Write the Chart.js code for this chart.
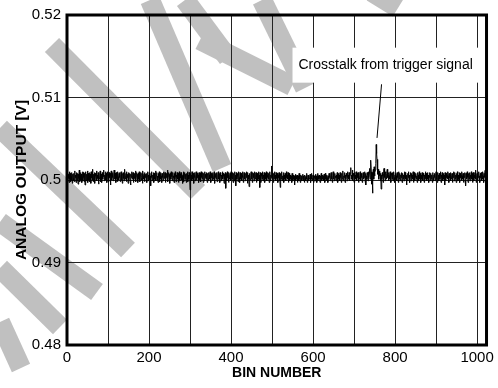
<!DOCTYPE html>
<html>
<head>
<meta charset="utf-8">
<script src="https://cdn.jsdelivr.net/npm/chart.js@4.4.0/dist/chart.umd.min.js"></script>
<style>
html, body { margin: 0; padding: 0; background: #fff; }
</style>
</head>
<body>
<canvas id="chart" width="498" height="388"></canvas>
<script>
// analog output around 0.5 V, offsets in units of 0.1 mV, 128 bins per array
var baseline = 0.5;
var bins0 = [
  6,-1,9,2,7,-3,10,1,8,-2,5,0,9,-4,7,3,
  -1,8,-2,11,3,6,-3,9,4,-1,8,-5,7,2,12,-2,
  5,9,0,7,-3,4,10,-1,9,3,-2,8,-6,5,10,-1,
  7,2,11,-3,8,0,5,9,-2,7,-4,10,3,8,0,13,
  -2,7,3,9,-4,8,5,0,11,-1,6,2,9,-5,8,1,
  5,11,-2,7,3,-3,9,1,8,4,12,-1,6,2,10,0,
  8,-3,5,10,1,7,-2,9,3,8,-6,5,11,0,7,3,
  9,-1,6,12,1,5,8,-3,9,2,7,-2,10,4,0,8
];
var bins128 = [
  3,9,-2,7,10,0,5,-4,8,2,9,-1,6,13,1,5,
  8,-2,10,3,7,-4,9,0,5,8,-1,-6,7,3,10,1,
  5,9,-3,7,2,8,0,11,-2,5,9,3,7,-3,8,1,
  10,4,-2,6,9,0,3,8,-4,11,5,1,7,-2,9,3,
  7,0,8,-3,5,10,-1,6,2,9,0,5,-7,8,3,10,
  -1,6,4,9,-3,8,1,3,11,-1,6,9,0,5,-3,8,
  3,10,-2,7,1,9,5,-3,8,3,6,-1,10,2,5,9,
  -3,6,3,8,1,12,-2,5,9,3,7,-4,8,1,10,4
];
var bins256 = [
  7,-1,9,3,5,-3,8,1,10,4,-2,6,3,9,1,8,
  -3,5,10,-1,7,3,9,0,8,5,-4,6,10,-2,4,9,
  1,7,5,-3,8,3,10,-2,6,1,9,5,-12,8,3,6,
  -1,10,5,1,8,-4,6,3,9,-1,5,10,0,2,8,3,
  6,-3,9,5,0,8,-2,10,3,7,1,9,-3,5,8,-1,
  10,3,7,1,9,5,-3,8,3,-1,9,6,1,10,5,-3,
  8,3,7,-1,9,1,5,10,-4,6,3,8,1,9,-2,5,
  7,10,1,3,8,-3,9,5,-1,6,3,10,1,8,5,-4
];
var bins384 = [
  7,1,9,-10,5,8,-1,10,3,6,-3,9,1,5,8,-1,
  10,3,7,1,9,-3,5,8,-1,10,3,6,-7,9,1,5,
  8,-2,6,10,3,-3,9,5,1,8,-1,6,3,10,-3,5,
  9,1,6,-1,8,3,10,5,-4,9,1,6,-8,8,3,0,
  5,10,1,7,-3,9,3,8,-1,5,10,1,7,9,-3,4,
  8,-1,5,10,1,6,-9,9,3,-3,8,5,1,10,-1,6,
  3,9,-3,8,5,1,10,-1,6,3,9,1,8,-3,5,10,
  -1,6,3,17,1,9,5,-3,8,1,10,3,6,-1,9,5
];
var bins512 = [
  2,8,-3,6,3,9,-1,5,-9,8,1,6,10,-1,5,3,
  9,-3,6,1,8,5,-1,10,3,6,1,9,-3,5,8,-1,
  6,3,1,5,-3,8,3,-1,6,1,5,-6,3,7,-1,5,
  1,6,-3,3,5,-1,8,1,3,-3,6,1,5,-1,3,7,
  -1,5,1,-3,6,3,-1,5,1,8,-3,3,6,-1,5,1,
  3,7,-3,5,1,8,-1,3,6,1,-3,5,3,-1,7,1,
  5,-3,3,8,-1,5,1,6,3,-3,5,1,8,-1,3,6,
  1,5,-1,7,3,-3,8,1,5,-1,6,3,-3,5,1,8
];
var bins640 = [
  3,8,-1,5,9,1,6,-3,5,10,1,6,-1,8,3,5,
  -1,6,3,9,-3,5,8,1,6,-1,9,3,5,-3,8,1,
  6,11,-1,5,3,9,-3,6,1,8,5,-1,10,3,6,1,
  9,-1,5,8,15,1,6,3,12,-1,8,5,-3,9,3,6,
  1,10,5,-1,8,3,9,-3,6,1,5,10,-1,8,3,6,
  -3,5,9,1,6,3,10,-1,8,-6,5,1,9,6,-1,10,
  3,8,14,1,17,24,10,-5,9,-16,6,13,1,16,5,10,
  12,20,43,32,25,14,7,13,1,10,5,11,-1,8,-11,6
];
var bins768 = [
  1,9,5,-3,8,14,3,6,-1,10,5,1,8,13,3,6,
  -1,9,5,1,10,3,-3,8,6,1,9,-1,5,10,3,-3,
  6,1,8,5,-1,9,3,6,-3,10,1,5,8,-1,6,3,
  9,-3,5,8,1,6,-1,10,3,9,1,5,-6,6,-1,8,
  3,10,1,6,-3,5,9,-1,8,3,6,1,10,-3,5,9,
  -1,6,3,8,1,5,-3,9,6,-1,3,10,1,8,5,-3,
  6,1,9,3,-1,8,5,-3,6,1,10,3,8,-1,5,9,
  1,6,-3,5,3,9,-1,8,1,6,5,-3,9,3,-1,6
];
var bins896 = [
  3,8,-1,6,10,1,5,-3,9,3,6,-1,8,1,5,10,
  -3,6,3,9,-1,5,8,1,6,-6,9,5,-1,8,3,6,
  1,10,5,-3,8,3,6,-1,9,1,5,8,-3,6,3,10,
  -1,5,9,1,6,-3,8,3,10,-1,6,1,5,9,-3,8,
  3,6,-1,10,5,1,8,-3,6,3,9,-1,-7,8,1,6,
  10,3,-3,8,5,1,9,-1,6,3,10,1,8,-3,5,9,
  -1,6,3,9,1,12,-3,5,8,-1,6,3,10,1,5,-3,
  8,3,9,-1,6,1,10,5,-3,8,3,9,12,-1,6,-6
];

var yTicks = [0.48, 0.49, 0.5, 0.51, 0.52];
var xGrid = [0, 100, 200, 300, 400, 500, 600, 700, 800, 900, 1000];
var xTickLabels = ['0', '200', '400', '600', '800', '1000'];

var noteText = 'Crosstalk from trigger signal';
var noteAt = [777, 0.51398];
var leaderFrom = [767, 0.5116];
var leaderTo = [756, 0.5051];

// grey watermark strokes behind the plot
var stripes = [
  [52, 45, 198, 192],
  [0, 128, 128, 250],
  [0, 222, 97, 292],
  [0, 268, 60, 327],
  [0, 322, 21, 368],
  [150, 0, 222, 168],
  [185, 0, 228, 58],
  [200, 40, 292, 86],
  [262, 0, 305, 88],
  [372, -8, 398, 8]
];

var allBins = bins0.concat(bins128, bins256, bins384, bins512, bins640, bins768, bins896);
var points = [];
for (var i = 0; i < allBins.length; i++) {
  points.push({x: i, y: baseline + allBins[i] / 10000});
}

var FONT = "'Liberation Sans', Arial, Helvetica, sans-serif";

var paper = {
  id: 'paper',
  beforeDraw: function(chart) {
    var ctx = chart.ctx;
    ctx.save();
    ctx.fillStyle = '#fff';
    ctx.fillRect(0, 0, chart.width, chart.height);
    ctx.strokeStyle = '#c0c0c0';
    ctx.lineWidth = 20;
    ctx.lineCap = 'butt';
    for (var i = 0; i < stripes.length; i++) {
      var s = stripes[i];
      ctx.beginPath();
      ctx.moveTo(s[0], s[1]);
      ctx.lineTo(s[2], s[3]);
      ctx.stroke();
    }
    ctx.restore();
  }
};

var note = {
  id: 'note',
  afterDatasetsDraw: function(chart) {
    var ctx = chart.ctx;
    var xs = chart.scales.x, ys = chart.scales.y;
    var tx = xs.getPixelForValue(noteAt[0]);
    var ty = ys.getPixelForValue(noteAt[1]);
    ctx.save();
    ctx.font = '14px ' + FONT;
    var w = ctx.measureText(noteText).width;
    ctx.fillStyle = '#fff';
    ctx.fillRect(tx - w / 2 - 6, ty - 17, w + 12, 35);
    ctx.fillStyle = '#000';
    ctx.textAlign = 'center';
    ctx.textBaseline = 'middle';
    ctx.fillText(noteText, tx, ty);
    ctx.strokeStyle = '#000';
    ctx.lineWidth = 1;
    ctx.beginPath();
    ctx.moveTo(xs.getPixelForValue(leaderFrom[0]), ys.getPixelForValue(leaderFrom[1]));
    ctx.lineTo(xs.getPixelForValue(leaderTo[0]), ys.getPixelForValue(leaderTo[1]));
    ctx.stroke();
    ctx.restore();
  }
};

var frame = {
  id: 'frame',
  afterDraw: function(chart) {
    var a = chart.chartArea;
    var ctx = chart.ctx;
    ctx.save();
    ctx.strokeStyle = '#000';
    ctx.lineWidth = 3;
    ctx.strokeRect(a.left, a.top, a.right - a.left, a.bottom - a.top);
    ctx.restore();
  }
};

var ctx = document.getElementById('chart').getContext('2d');
var myChart = new Chart(ctx, {
  type: 'line',
  data: {
    datasets: [{
      data: points,
      borderColor: '#000',
      borderWidth: 1,
      pointRadius: 0,
      tension: 0,
      fill: false
    }]
  },
  options: {
    responsive: false,
    animation: false,
    events: [],
    layout: { padding: { top: 13, right: 10, left: 0, bottom: 0 } },
    plugins: { legend: { display: false }, tooltip: { enabled: false } },
    scales: {
      x: {
        type: 'linear',
        min: 0,
        max: 1023,
        afterBuildTicks: function(scale) {
          scale.ticks = xGrid.map(function(v) { return {value: v}; });
        },
        afterFit: function(scale) { scale.height = 43; },
        grid: { color: '#222', lineWidth: 1, drawTicks: false },
        border: { display: false },
        ticks: {
          padding: 4,
          maxRotation: 0,
          autoSkip: false,
          color: '#000',
          font: { family: FONT, size: 15 },
          callback: function(v) {
            return v % 200 === 0 ? xTickLabels[v / 200] : '';
          }
        },
        title: {
          display: true,
          text: 'BIN NUMBER',
          color: '#000',
          font: { family: FONT, size: 14, weight: 'bold' },
          padding: { top: 0, bottom: 6 }
        }
      },
      y: {
        min: 0.48,
        max: 0.52,
        afterBuildTicks: function(scale) {
          scale.ticks = yTicks.map(function(v) { return {value: v}; });
        },
        afterFit: function(scale) { scale.width = 67; },
        grid: { color: '#222', lineWidth: 1, drawTicks: false },
        border: { display: false },
        ticks: {
          padding: 6,
          color: '#000',
          font: { family: FONT, size: 15 },
          callback: function(v) { return String(Math.round(v * 100) / 100); }
        },
        title: {
          display: true,
          text: 'ANALOG OUTPUT [V]',
          color: '#000',
          font: { family: FONT, size: 15.5, weight: 'bold' },
          padding: { top: 12, bottom: 0 }
        }
      }
    }
  },
  plugins: [paper, note, frame]
});
</script>
</body>
</html>
